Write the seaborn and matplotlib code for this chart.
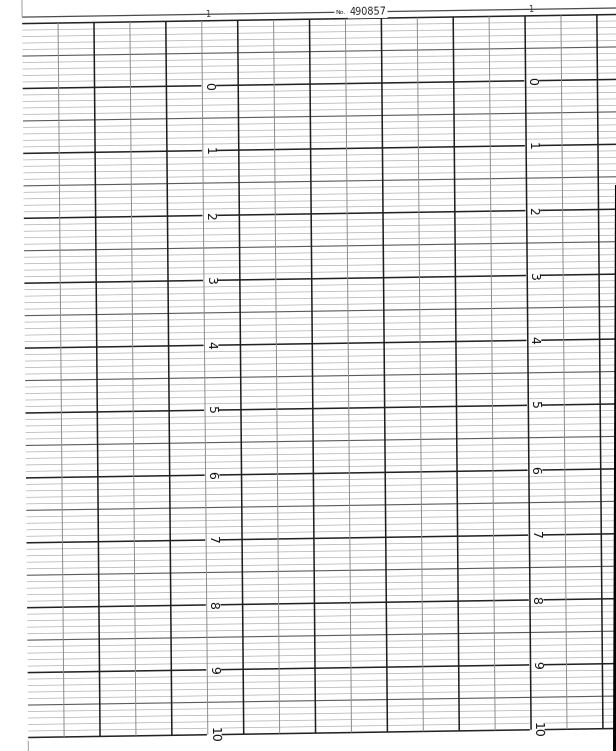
import numpy as np
import pandas as pd
import matplotlib
matplotlib.use("Agg")
import matplotlib.pyplot as plt
import matplotlib.transforms as mtransforms
import seaborn as sns

# ---------------- data ----------------
scale_labels = list(range(0, 11))          # printed scale values 0..10
grid_top = -1                              # top ruling of the grid
grid_bottom = 10                           # bottom ruling
minor_per_unit = 10                        # fine rulings per scale unit
dark_columns = [2, 4, 6, 8, 10, 12, 14, 16]
light_columns = [1, 3, 5, 7, 9, 11, 13, 15]
label_columns = [5.18, 14.17]              # columns carrying the scale numbers
chart_prefix = "No."
chart_number = "490857"

# ---------------- style ----------------
sns.set_theme(style="white")
plt.rcParams["font.family"] = ["DejaVu Sans"]

W, H = 616, 751
fig = plt.figure(figsize=(W / 100, H / 100), dpi=100)
ax = fig.add_axes([0, 0, 1, 1])
ax.set_axis_off()

# slightly skewed scan: paper coordinates (column, value) -> page pixels
paper = mtransforms.Affine2D(np.array([[35.92, 0.55, 22.7],
                                       [-0.55, 64.9, 88.5],
                                       [0.0, 0.0, 1.0]])) + ax.transData

u_left, u_right = 0.0, 16.7


def segs_frame(segs):
    rows = []
    for i, (u0, v0, u1, v1) in enumerate(segs):
        rows.append((i, u0, v0))
        rows.append((i, u1, v1))
    return pd.DataFrame(rows, columns=["seg", "u", "v"])


def draw(segs, color, lw, z=2):
    df = segs_frame(segs)
    sns.lineplot(data=df, x="u", y="v", units="seg", estimator=None, sort=False,
                 color=color, linewidth=lw, ax=ax, transform=paper,
                 legend=False, zorder=z, solid_capstyle="butt")


fine = np.arange(grid_top * minor_per_unit, grid_bottom * minor_per_unit + 1) / minor_per_unit
major_v = [v for v in fine if abs(v - round(v)) < 1e-9]
half_v = [v for v in fine if abs(abs(v - round(v)) - 0.5) < 1e-9]
minor_v = [v for v in fine if v not in major_v and v not in half_v]

draw([(u_left, v, u_right, v) for v in minor_v], "#b4b4b4", 0.55, 1)
draw([(u_left, v, u_right, v) for v in half_v], "#5a5a5a", 0.8, 2)
draw([(u_left, v, u_right, v) for v in major_v], "#222222", 1.1, 3)
draw([(c, grid_top, c, grid_bottom) for c in light_columns], "#8c8c8c", 0.7, 7)
draw([(c, grid_top, c, grid_bottom) for c in dark_columns], "#1e1e1e", 1.1, 8)

# top border ruling and edge stubs
draw([(u_left, grid_top - 0.1, u_right, grid_top - 0.1)], "#4a4a4a", 0.9, 2)
draw([(u_left, grid_top - 0.37, u_left, grid_top - 0.1),
      (u_left, grid_bottom + 0.05, u_left, grid_bottom + 0.25)], "#9a9a9a", 0.7, 2)

tilt = np.degrees(np.arctan2(0.55, 35.92))

# scale numbers
for v in scale_labels:
    for c in label_columns:
        ax.text(c, v, str(v), transform=paper, rotation=-90 + tilt,
                rotation_mode="anchor", ha="center", va="center",
                fontsize=9, color="#111111", zorder=6,
                bbox=dict(facecolor="white", edgecolor="none", pad=0.6))
# top marks
for c in label_columns:
    ax.text(c, grid_top - 0.1, "1", transform=paper, rotation=tilt,
            ha="center", va="center", fontsize=6, color="#333333", zorder=6)

# chart number
ax.text(8.88, grid_top - 0.1, chart_prefix, transform=paper, rotation=tilt,
        ha="center", va="center", fontsize=4.5, color="#222222", zorder=6,
        bbox=dict(facecolor="white", edgecolor="none", pad=1.0))
ax.text(9.62, grid_top - 0.1, chart_number, transform=paper, rotation=tilt,
        ha="center", va="center", fontsize=7, color="#222222", zorder=6,
        bbox=dict(facecolor="white", edgecolor="none", pad=1.0))

# dark page edge on the right
ax.fill([612.5, 616.5, 616.5, 614.5], [751, 751, 185, 185], color="black", zorder=9, lw=0)

ax.set_xlim(0, W)
ax.set_ylim(H, 0)
fig.savefig("out.png", dpi=100, facecolor="white")
